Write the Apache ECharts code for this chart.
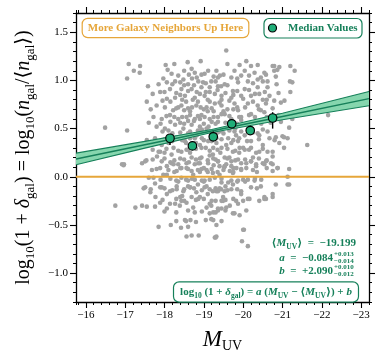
<!DOCTYPE html>
<html><head><meta charset="utf-8">
<script src="https://cdn.jsdelivr.net/npm/echarts@6/dist/echarts.min.js"></script>
<style>html,body{margin:0;padding:0;background:#fff}#c{width:379px;height:358px}</style>
</head><body><div id="c"></div>
<script>
// ---- data ----
const xTicksMajor = [-16,-17,-18,-19,-20,-21,-22,-23];
const yTicksMajor = [-1.0,-0.5,0.0,0.5,1.0,1.5];
const neighborPoints = [
[-17.09,1.17],[-17.22,1.10],[-17.38,1.15],[-17.37,1.08],[-17.05,1.02],[-17.58,0.94],[-17.55,0.78],[-16.49,0.51],[-17.05,0.48],[-18.03,1.16],[-18.25,1.17],[-18.59,1.19],[-18.92,1.20],[-18.69,1.12],[-18.50,1.10],[-18.77,1.08],[-18.94,1.06],[-19.11,1.10],[-18.08,1.11],[-18.18,1.07],[-17.97,1.02],[-18.06,0.98],[-18.27,0.99],[-18.48,1.01],[-18.60,0.96],[-18.86,0.99],[-19.19,0.99],[-19.36,1.03],[-17.85,0.96],[-17.89,0.88],[-18.14,0.91],[-18.43,0.91],[-18.69,0.91],[-18.94,0.93],[-19.15,0.93],[-19.44,0.94],[-18.06,0.81],[-18.27,0.82],[-18.52,0.84],[-18.77,0.82],[-19.02,0.84],[-19.28,0.86],[-17.80,0.74],[-18.01,0.72],[-18.22,0.69],[-18.43,0.74],[-18.60,0.71],[-18.81,0.74],[-19.07,0.72],[-19.28,0.76],[-17.72,0.62],[-17.93,0.60],[-18.14,0.64],[-18.35,0.60],[-18.56,0.62],[-18.77,0.60],[-18.94,0.64],[-19.15,0.60],[-19.36,0.62],[-17.80,0.52],[-18.01,0.50],[-18.27,0.54],[-18.48,0.50],[-18.69,0.54],[-18.90,0.52],[-19.07,0.50],[-17.76,0.40],[-17.93,0.33],[-18.35,0.40],[-18.52,0.37],[-18.77,0.40],[-18.94,0.30],[-19.11,0.37],[-19.32,0.40],[-17.85,0.26],[-18.18,0.23],[-18.43,0.26],[-18.69,0.20],[-18.94,0.20],[-19.23,0.23],[-16.92,0.13],[-17.43,0.14],[-17.93,0.16],[-18.35,0.13],[-18.86,0.14],[-19.36,0.16],
[-19.57,1.31],[-19.60,1.17],[-19.32,1.10],[-19.41,1.05],[-19.91,1.16],[-20.08,1.20],[-20.20,1.15],[-20.37,1.16],[-20.04,1.10],[-19.78,1.10],[-19.70,1.03],[-19.95,1.05],[-20.29,1.08],[-20.54,1.08],[-20.79,1.10],[-20.92,1.14],[-20.79,1.15],[-21.20,1.15],[-21.31,1.10],[-20.83,1.04],[-21.25,0.98],[-20.62,0.99],[-20.37,1.01],[-20.12,0.99],[-19.87,0.98],[-19.53,0.96],[-19.36,0.94],[-19.74,0.89],[-20.04,0.91],[-20.37,0.93],[-20.62,0.93],[-21.20,0.88],[-19.45,0.84],[-19.70,0.82],[-19.95,0.84],[-20.20,0.84],[-20.41,0.86],[-20.67,0.84],[-20.96,0.77],[-20.79,0.79],[-19.45,0.74],[-19.78,0.76],[-20.12,0.76],[-20.37,0.74],[-20.58,0.76],[-19.53,0.65],[-19.87,0.69],[-20.20,0.65],[-20.54,0.67],[-22.16,0.64],[-19.36,0.57],[-19.66,0.54],[-19.95,0.59],[-20.46,0.55],[-20.96,0.57],[-21.25,0.60],[-19.45,0.48],[-19.78,0.47],[-20.04,0.43],[-20.37,0.45],[-20.62,0.47],[-20.67,0.40],[-21.00,0.42],[-19.62,0.40],[-19.87,0.37],[-20.20,0.37],[-20.50,0.33],[-20.92,0.35],[-21.04,0.30],[-21.63,0.33],[-19.45,0.30],[-19.74,0.26],[-20.04,0.28],[-20.33,0.25],[-20.62,0.26],[-20.75,0.21],[-19.53,0.20],[-19.87,0.18],[-20.20,0.16],[-20.50,0.14],[-20.75,0.13],[-19.70,0.11],
[-16.96,0.12],[-17.51,0.16],[-17.68,0.07],[-17.60,-0.01],[-17.72,-0.01],[-17.97,0.02],[-18.06,0.11],[-18.18,0.14],[-18.31,0.06],[-18.43,0.09],[-18.56,0.14],[-18.69,0.06],[-18.77,0.13],[-18.94,0.08],[-19.11,0.14],[-19.23,0.04],[-19.40,0.11],[-18.43,-0.01],[-18.60,-0.04],[-18.77,-0.03],[-19.02,-0.04],[-19.28,-0.01],[-17.47,-0.12],[-17.76,-0.07],[-17.93,-0.11],[-18.14,-0.15],[-18.31,-0.13],[-18.48,-0.15],[-18.65,-0.11],[-18.81,-0.16],[-19.02,-0.11],[-19.23,-0.15],[-19.44,-0.13],[-16.75,-0.30],[-17.26,-0.32],[-17.43,-0.30],[-17.55,-0.31],[-17.76,-0.31],[-17.89,-0.27],[-18.06,-0.33],[-18.27,-0.28],[-18.43,-0.25],[-18.56,-0.27],[-18.39,-0.30],[-18.69,-0.21],[-18.86,-0.23],[-19.07,-0.32],[-19.19,-0.30],[-19.36,-0.33],[-18.77,-0.37],[-19.15,-0.38],[-19.19,-0.44],[-18.52,-0.45],[-17.85,-0.52],[-18.16,-0.50],[-18.42,-0.53],[-18.60,-0.52],[-18.56,-0.62],[-18.69,-0.61],[-18.87,-0.61],[-19.28,-0.63],
[-19.36,0.16],[-19.53,0.11],[-19.70,0.16],[-19.66,0.06],[-19.83,0.09],[-19.95,0.14],[-20.08,0.09],[-20.20,0.16],[-20.33,0.13],[-20.54,0.13],[-20.71,0.14],[-20.75,0.06],[-20.88,0.09],[-21.17,0.08],[-21.13,-0.08],[-19.87,-0.04],[-20.12,-0.03],[-20.29,-0.04],[-20.46,-0.03],[-19.45,-0.06],[-19.62,-0.06],[-19.36,-0.15],[-19.53,-0.15],[-19.70,-0.13],[-19.95,-0.15],[-20.12,-0.23],[-20.54,-0.23],[-20.75,-0.21],[-19.45,-0.25],[-19.66,-0.30],[-19.87,-0.28],[-19.36,-0.35],[-19.45,-0.33],[-19.78,-0.38],[-19.91,-0.40],[-19.32,-0.50],[-20.02,-0.55],[-19.32,-0.62],[-19.97,-0.67],[-20.12,-0.72],
[-18.55,-0.46],[-18.66,-0.45],[-19.24,-0.45],[-19.30,-0.63],[-19.49,-0.25],[-19.74,-0.38],[-20.00,-0.55],[-20.16,-0.23],[-20.58,-0.23],
[-16.97,0.13],[-17.54,0.17],[-17.81,0.21],[-17.89,0.09],[-18.06,0.02],[-18.23,0.13],[-18.40,0.19],[-18.56,0.09],[-18.73,0.02],[-18.90,0.14],[-19.07,0.07],[-19.24,0.19],[-19.40,0.02],[-19.57,0.13],[-19.74,0.04],[-19.95,0.07],[-20.08,0.14],[-20.33,0.11],[-20.58,0.16],[-20.87,0.09],[-21.13,0.00],[-21.17,-0.08],[-20.75,0.26],[-20.41,0.26],[-20.20,0.30],[-19.91,0.30],[-19.57,0.33],[-19.24,0.30],[-18.90,0.33],[-18.56,0.28],[-18.23,0.30],[-17.89,0.26],[-17.72,0.36],[-18.31,0.41],[-18.82,0.43],[-19.40,0.47],[-19.82,0.43],[-20.41,0.43],[-20.83,0.41],[-21.04,0.41],[-21.17,0.51],[-21.13,0.40],[-21.19,0.99],[-20.75,1.15],[-20.87,1.11],[-20.58,1.06],
[-17.51,-0.11],[-17.64,-0.16],[-17.77,-0.21],[-17.89,-0.11],[-18.06,-0.18],[-18.14,-0.28],[-18.31,-0.10],[-18.40,-0.21],[-18.65,-0.11],[-18.73,-0.32],[-18.90,-0.21],[-19.07,-0.10],[-19.15,-0.28],[-19.24,-0.37],[-19.32,-0.15],[-19.49,-0.21],[-19.57,-0.32],[-19.74,-0.08],[-19.82,-0.25],[-19.95,-0.18],[-20.08,-0.35],[-20.20,-0.11],[-20.41,-0.25],[-20.54,-0.21],[-20.75,-0.18],[-20.83,-0.08],
[-18.40,0.85],[-18.55,0.78],[-18.65,0.68],[-18.75,0.58],[-18.85,0.48],[-18.95,0.40],[-19.05,0.30],[-19.15,0.22],[-19.25,0.12],[-19.35,0.05],[-18.45,0.62],[-18.60,0.45],[-18.70,0.30],[-18.80,0.18],[-18.90,0.05],[-19.00,-0.05],[-19.10,-0.18],[-19.20,-0.25],[-18.35,0.72],[-18.50,0.55],[-18.62,0.15],[-18.72,0.80],[-18.82,0.88],[-18.92,0.72],[-19.02,0.62],[-19.12,0.52],[-19.22,0.45],[-19.32,0.35],[-19.42,0.25],[-19.52,0.10],[-19.60,0.70],[-19.70,0.60],[-19.80,0.50],[-19.90,0.40],[-20.00,0.30],[-19.65,0.20],[-19.75,0.05],[-19.85,-0.05],[-19.55,-0.10],[-19.45,0.80],[-19.35,0.90],[-19.25,0.68],[-19.15,0.78],[-19.05,0.88],[-18.98,0.98],[-18.20,0.45],[-18.10,0.35],[-18.00,0.25],[-18.15,0.15],[-18.25,0.05],[-18.35,-0.05],[-18.45,-0.20],[-18.55,0.35],[-18.65,0.25],[-20.10,0.55],[-20.20,0.50],[-20.30,0.62],[-20.40,0.70],[-20.50,0.80],[-20.15,0.90],[-20.25,0.20],[-20.35,0.05],[-20.45,-0.10],[-20.05,-0.05],[-19.95,0.62],[-19.85,0.72],[-19.75,0.85],[-18.50,0.95],[-18.70,1.02],[-18.90,0.60],[-19.10,0.68],[-19.30,0.55],[-19.50,0.45],[-19.70,0.35],[-19.90,0.25],[-18.80,0.35],[-18.60,-0.10],[-18.85,-0.08],[-19.10,0.05],[-19.30,-0.12],
[-18.35,1.05],[-18.62,1.06],[-18.82,1.03],[-19.02,1.07],[-19.25,1.04],[-19.50,1.06],[-19.85,1.02],[-20.15,1.05],[-20.45,1.03],
[-18.20,0.96],[-18.40,0.98],[-18.75,0.95],[-19.05,0.97],[-19.30,0.99],[-19.60,0.95],[-20.25,0.97],[-20.50,0.99],[-20.85,0.96],
[-17.70,0.86],[-18.00,0.88],[-18.30,0.87],[-18.60,0.89],[-18.90,0.86],[-19.15,0.88],[-19.55,0.87],[-19.85,0.89],[-20.30,0.86],[-20.55,0.88],[-20.90,0.87],
[-17.95,0.79],[-18.15,0.78],[-18.45,0.80],[-18.85,0.78],[-19.10,0.80],[-19.40,0.77],[-19.65,0.79],[-20.00,0.81],[-20.25,0.78],[-20.60,0.80],[-21.05,0.79],
[-17.65,0.70],[-18.30,0.71],[-18.50,0.69],[-18.70,0.72],[-19.00,0.70],[-19.20,0.71],[-19.50,0.68],[-19.75,0.70],[-20.05,0.72],[-20.45,0.69],[-20.75,0.71],
[-18.05,0.63],[-18.25,0.62],[-18.65,0.64],[-18.85,0.63],[-19.25,0.62],[-19.45,0.65],[-19.65,0.63],[-19.90,0.62],[-20.15,0.64],[-20.60,0.62],[-20.90,0.64],
[-17.60,0.56],[-17.90,0.55],[-18.15,0.57],[-18.40,0.56],[-18.60,0.58],[-19.00,0.55],[-19.20,0.57],[-19.55,0.56],[-19.85,0.55],[-20.30,0.57],[-20.70,0.56],
[-17.95,0.47],[-18.10,0.48],[-18.40,0.46],[-18.65,0.47],[-18.95,0.49],[-19.15,0.47],[-19.35,0.46],[-19.65,0.48],[-19.95,0.47],[-20.25,0.46],[-20.50,0.49],
[-17.55,0.38],[-18.00,0.39],[-18.20,0.37],[-18.45,0.38],[-18.65,0.40],[-19.00,0.38],[-19.20,0.37],[-19.45,0.39],[-19.75,0.38],[-20.10,0.37],[-20.40,0.39],[-20.80,0.38],
[-17.70,0.28],[-18.05,0.29],[-18.35,0.27],[-18.60,0.28],[-18.80,0.29],[-19.15,0.27],[-19.35,0.28],[-19.60,0.29],[-19.80,0.27],[-20.15,0.28],[-20.50,0.29],
[-17.70,0.18],[-18.00,0.19],[-18.25,0.17],[-18.50,0.18],[-18.90,0.19],[-19.10,0.17],[-19.30,0.18],[-19.60,0.19],[-19.80,0.17],[-20.05,0.18],[-20.40,0.19],[-20.60,0.17],
[-17.80,0.08],[-18.10,0.07],[-18.40,0.09],[-18.60,0.08],[-18.85,0.07],[-19.00,0.09],[-19.20,0.08],[-19.50,0.07],[-19.75,0.09],[-19.95,0.08],[-20.25,0.07],[-20.60,0.09],
[-17.90,-0.03],[-18.15,-0.02],[-18.30,-0.04],[-18.55,-0.03],[-18.70,-0.02],[-18.95,-0.04],[-19.15,-0.03],[-19.45,-0.02],[-19.70,-0.04],[-20.00,-0.03],[-20.30,-0.02],
[-17.65,-0.13],[-18.00,-0.12],[-18.20,-0.14],[-18.50,-0.13],[-18.75,-0.12],[-18.95,-0.14],[-19.15,-0.13],[-19.40,-0.12],[-19.60,-0.14],[-19.85,-0.13],[-20.35,-0.12],
[-17.95,-0.24],[-18.30,-0.23],[-18.50,-0.25],[-18.80,-0.24],[-19.00,-0.23],[-19.30,-0.25],[-19.55,-0.24],[-19.75,-0.23],[-20.00,-0.25],
[-18.00,-0.36],[-18.30,-0.37],[-18.60,-0.35],[-18.95,-0.36],[-19.30,-0.37],[-19.55,-0.35],
[-18.30,-0.46],[-18.80,-0.47],[-19.05,-0.45],[-19.45,-0.46]
];
const medianX  = [-18.14, -18.71, -19.24, -19.71, -20.18, -20.75];
const medianY  = [0.40, 0.32, 0.415, 0.55, 0.48, 0.61];
const medianLo = [0.33, 0.30, 0.39, 0.53, 0.46, 0.50];
const medianHi = [0.43, 0.37, 0.47, 0.57, 0.53, 0.67];
const fitX     = [-15.75, -17.5, -19.2, -21.0, -23.2];
const fitMid   = [0.185, 0.332, 0.475, 0.626, 0.811];
const fitUpper = [0.245, 0.367, 0.490, 0.660, 0.885];
const fitLower = [0.125, 0.297, 0.460, 0.592, 0.737];
const zeroLevel = 0;

// ---- chart ----
const SERIF = "'Liberation Serif','DejaVu Serif',serif";
const GREEN = '#16805a';
const MARK = '#1fae78';
const ORANGE = '#e6a63a';
const X_MIN = -23.2, X_MAX = -15.75, Y_MIN = -1.3, Y_MAX = 1.7;
const chart = echarts.init(document.getElementById('c'), null, {renderer: 'canvas'});
const minus = s => s.replace('-', '\u2212');
const xFmt = v => minus(String(Math.round(v)));
const yFmt = v => minus((Math.abs(v) < 1e-9 ? 0 : v).toFixed(1));
const lineSt = {color: '#000', width: 1.3};
function xAx(pos, major, labels) {
  return {
    type: 'value', position: pos, min: X_MIN, max: X_MAX, inverse: true,
    interval: major ? undefined : 0.2,
    splitLine: {show: false},
    axisLine: {show: !major, onZero: false, lineStyle: lineSt},
    axisTick: major ? {customValues: xTicksMajor, length: 6, lineStyle: {color: '#000', width: 1.1}}
                    : {length: 3, lineStyle: {color: '#000', width: 1}},
    axisLabel: labels ? {customValues: xTicksMajor, formatter: xFmt, fontFamily: SERIF, fontSize: 11, color: '#000', margin: 8}
                      : {show: false}
  };
}
function yAx(pos, major, labels) {
  return {
    type: 'value', position: pos, min: Y_MIN, max: Y_MAX,
    interval: major ? undefined : 0.1,
    splitLine: {show: false},
    axisLine: {show: !major, onZero: false, lineStyle: lineSt},
    axisTick: major ? {customValues: yTicksMajor, length: 6, lineStyle: {color: '#000', width: 1.1}}
                    : {length: 3, lineStyle: {color: '#000', width: 1}},
    axisLabel: labels ? {customValues: yTicksMajor, formatter: yFmt, fontFamily: SERIF, fontSize: 11, color: '#000', margin: 8}
                      : {show: false}
  };
}
const xAxes = [xAx('bottom', false, true), xAx('bottom', true, false), xAx('top', false, false), xAx('top', true, false)];
xAxes[0].name = '{i|M}{s|UV}';
xAxes[0].nameLocation = 'middle';
xAxes[0].nameGap = 25;
xAxes[0].nameTextStyle = {rich: {
  i: {fontFamily: SERIF, fontStyle: 'italic', fontSize: 23, color: '#000', lineHeight: 26, verticalAlign: 'middle'},
  s: {fontFamily: SERIF, fontSize: 14, color: '#000', verticalAlign: 'bottom'}
}};
const yAxes = [yAx('left', false, true), yAx('left', true, false), yAx('right', false, false), yAx('right', true, false)];
yAxes[0].name = '{n|log}{s|10}{n|(1 + }{i|δ}{s|gal}{n|) = log}{s|10}{n|(}{i|n}{s|gal}{n|/⟨}{i|n}{s|gal}{n|⟩)}';
yAxes[0].nameLocation = 'middle';
yAxes[0].nameRotate = 90;
yAxes[0].nameGap = 38;
yAxes[0].nameTextStyle = {rich: {
  n: {fontFamily: SERIF, fontSize: 20, color: '#000', lineHeight: 26, verticalAlign: 'middle'},
  i: {fontFamily: SERIF, fontStyle: 'italic', fontSize: 20, color: '#000', lineHeight: 26, verticalAlign: 'middle'},
  s: {fontFamily: SERIF, fontSize: 13, color: '#000', verticalAlign: 'bottom'}
}};

const bandPoly = fitX.map((x, i) => [x, fitUpper[i]]).concat(fitX.map((x, i) => [x, fitLower[i]]).reverse());

const txt = {fontFamily: SERIF, fontWeight: 'bold', color: GREEN};
const richMain = {
  n: Object.assign({fontSize: 11, lineHeight: 16, verticalAlign: 'middle'}, txt),
  i: Object.assign({fontSize: 11, fontStyle: 'italic', lineHeight: 16, verticalAlign: 'middle'}, txt),
  s: Object.assign({fontSize: 7.5, verticalAlign: 'bottom'}, txt)
};
function gText(x, y, text, align, extra) {
  return {type: 'text', x: x, y: y, z: 100,
    style: Object.assign({text: text, align: align, verticalAlign: 'middle', rich: richMain,
      fill: GREEN, font: "bold 11px " + SERIF}, extra || {})};
}
const small = {font: "bold 7px " + SERIF, fill: GREEN};

chart.setOption({
  animation: false,
  grid: {left: 76, right: 10, top: 13, bottom: 52, containLabel: false},
  xAxis: xAxes,
  yAxis: yAxes,
  series: [
    {type: 'scatter', name: 'Galaxies', data: neighborPoints, symbolSize: 4.6,
     itemStyle: {color: '#a2a2a2', opacity: 1}, z: 1, silent: true},
    {type: 'line', name: 'Zero', data: [[X_MIN, zeroLevel], [X_MAX, zeroLevel]], showSymbol: false,
     lineStyle: {color: ORANGE, width: 2}, z: 2},
    {type: 'custom', name: 'Band', z: 3, data: [0],
     renderItem: (params, api) => ({type: 'polygon',
       shape: {points: bandPoly.map(p => api.coord(p))},
       style: {fill: '#86d6ae', stroke: null}}), clip: true},
    {type: 'line', name: 'FitUpper', data: fitX.map((x, i) => [x, fitUpper[i]]), showSymbol: false,
     lineStyle: {color: GREEN, width: 1.1}, z: 4},
    {type: 'line', name: 'FitLower', data: fitX.map((x, i) => [x, fitLower[i]]), showSymbol: false,
     lineStyle: {color: GREEN, width: 1.1}, z: 4},
    {type: 'line', name: 'Fit', data: fitX.map((x, i) => [x, fitMid[i]]), showSymbol: false,
     lineStyle: {color: GREEN, width: 1.4}, z: 4},
    {type: 'custom', name: 'Err', z: 5,
     data: medianX.map((x, i) => [x, medianLo[i], medianHi[i]]),
     renderItem: (params, api) => {
       const a = api.coord([api.value(0), api.value(1)]);
       const b = api.coord([api.value(0), api.value(2)]);
       return {type: 'line', shape: {x1: a[0], y1: a[1], x2: b[0], y2: b[1]},
               style: {stroke: '#000', lineWidth: 1.4}};
     }},
    {type: 'scatter', name: 'Median Values', data: medianX.map((x, i) => [x, medianY[i]]),
     symbolSize: 8.5, itemStyle: {color: MARK, borderColor: '#000', borderWidth: 1.2, opacity: 1}, z: 6}
  ],
  graphic: [
    {type: 'text', x: 165.5, y: 28, z: 100,
     style: {text: 'More Galaxy Neighbors Up Here', align: 'center', verticalAlign: 'middle',
       font: "bold 11px " + SERIF, fill: ORANGE, backgroundColor: '#fff',
       borderColor: ORANGE, borderWidth: 1.2, borderRadius: 5, padding: [4, 5, 3, 5]}},
    {type: 'rect', z: 100, shape: {x: 264, y: 18.5, width: 98, height: 19.5, r: 5},
     style: {fill: '#fff', stroke: GREEN, lineWidth: 1.2}},
    {type: 'circle', z: 101, shape: {cx: 272.5, cy: 28, r: 4},
     style: {fill: MARK, stroke: '#000', lineWidth: 1.2}},
    {type: 'text', x: 288, y: 28, z: 101,
     style: {text: 'Median Values', align: 'left', verticalAlign: 'middle', font: "bold 11px " + SERIF, fill: GREEN}},
    gText(356, 243, '{n|⟨}{i|M}{s|UV}{n|⟩  =  −19.199}', 'right'),
    gText(333, 258, '{i|a}{n|  =  −0.084}', 'right'),
    {type: 'text', x: 334, y: 254, z: 100, style: Object.assign({text: '+0.013', align: 'left', verticalAlign: 'middle'}, small)},
    {type: 'text', x: 334, y: 261.5, z: 100, style: Object.assign({text: '−0.014', align: 'left', verticalAlign: 'middle'}, small)},
    gText(333, 271, '{i|b}{n|  =  +2.090}', 'right'),
    {type: 'text', x: 334, y: 267, z: 100, style: Object.assign({text: '+0.010', align: 'left', verticalAlign: 'middle'}, small)},
    {type: 'text', x: 334, y: 274.5, z: 100, style: Object.assign({text: '−0.012', align: 'left', verticalAlign: 'middle'}, small)},
    gText(266, 292, '{n|log}{s|10}{n| (1 + }{i|δ}{s|gal}{n|) = }{i|a}{n| (}{i|M}{s|UV}{n| − ⟨}{i|M}{s|UV}{n|⟩) + }{i|b}', 'center',
      {backgroundColor: '#fff', borderColor: GREEN, borderWidth: 1.2, borderRadius: 5, padding: [2, 6, 1, 6]})
  ]
});
</script></body></html>
